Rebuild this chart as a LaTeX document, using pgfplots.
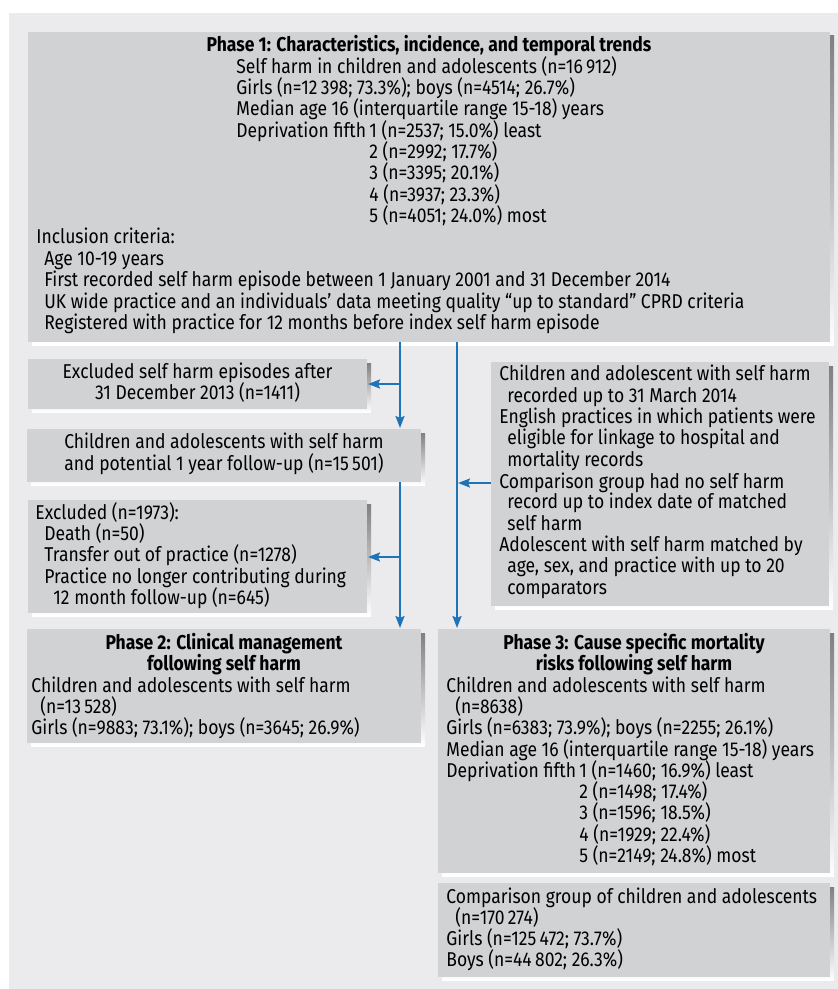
\documentclass[border=0pt]{standalone}
\usepackage{fontspec}
\setmainfont{Fira Sans}[FakeStretch=0.875, Numbers=Proportional]
\usepackage{pgfplots}
\pgfplotsset{compat=1.18}
\usetikzlibrary{arrows.meta}
\definecolor{bg}{HTML}{EBEBED}
\definecolor{boxgrey}{HTML}{D1D2D4}
\definecolor{shade}{HTML}{BDBEC0}
\definecolor{txt}{HTML}{3D3D3D}
\definecolor{arrowblue}{HTML}{1F73B7}
% one line of text, base west at pixel position
\newcommand\tl[3]{\node[anchor=base west,inner sep=0pt] at (axis cs:#1,#2) {#3};}
\newcommand\tc[3]{\node[anchor=base,inner sep=0pt] at (axis cs:#1,#2) {#3};}
% box with drop shadow: x1,y1,x2,y2
\newcommand\bx[4]{%
  \fill[shade] (axis cs:#1+4,#2+4) rectangle (axis cs:#3+4,#4+3);
  \fill[boxgrey] (axis cs:#1,#2) rectangle (axis cs:#3,#4);}
\begin{document}
\begin{tikzpicture}
\begin{axis}[
  width=419pt, height=494.5pt, scale only axis,
  xmin=0, xmax=838, ymin=0, ymax=989, y dir=reverse,
  hide axis, clip=false,
  every node/.style={font=\fontsize{9.25}{10.6}\selectfont, text=txt},
]
\fill[white] (axis cs:0,0) rectangle (axis cs:838,989);
\fill[bg] (axis cs:9,13) rectangle (axis cs:838,989);

% boxes
\bx{28}{32}{830}{342}
\bx{28}{359}{367}{409}
\bx{27}{429}{421}{482}
\bx{28}{500}{367}{613}
\bx{491}{362}{829}{606}
\bx{27}{629}{421}{743}
\bx{438}{629}{830}{873}
\bx{438}{883}{830}{977}

% arrows
\pgfplotsset{every axis plot/.append style={arrowblue, line width=1pt, mark=none}}
\addplot[-{Stealth[length=6pt,width=4.5pt,inset=1pt]}] coordinates {(400,342) (400,428)};
\addplot[-{Stealth[length=6pt,width=4.5pt,inset=1pt]}] coordinates {(400,384) (368,384)};
\addplot[-{Stealth[length=6pt,width=4.5pt,inset=1pt]}] coordinates {(400,482) (400,628)};
\addplot[-{Stealth[length=6pt,width=4.5pt,inset=1pt]}] coordinates {(400,557) (368,557)};
\addplot[-{Stealth[length=6pt,width=4.5pt,inset=1pt]}] coordinates {(457,342) (457,628)};
\addplot[-{Stealth[length=6pt,width=4.5pt,inset=1pt]}] coordinates {(491,483) (458,483)};

% Phase 1
\tc{429}{52}{\bfseries Phase 1: Characteristics, incidence, and temporal trends}
\tl{236}{74}{Self harm in children and adolescents (n=16\,912)}
\tl{236}{95}{Girls (n=12\,398; 73.3\%); boys (n=4514; 26.7\%)}
\tl{236}{116}{Median age 16 (interquartile range 15-18) years}
\tl{236}{138}{Deprivation fifth}
\tl{369}{138}{1 (n=2537; 15.0\%) least}
\tl{369}{159}{2 (n=2992; 17.7\%)}
\tl{369}{180}{3 (n=3395; 20.1\%)}
\tl{369}{202}{4 (n=3937; 23.3\%)}
\tl{369}{223}{5 (n=4051; 24.0\%) most}
\tl{36}{244}{Inclusion criteria:}
\tl{44}{266}{Age 10-19 years}
\tl{44}{287}{First recorded self harm episode between 1 January 2001 and 31 December 2014}
\tl{44}{308}{UK wide practice and an individuals’ data meeting quality “up to standard” CPRD criteria}
\tl{44}{329}{Registered with practice for 12 months before index self harm episode}

% exclusions
\tc{197.5}{378}{Excluded self harm episodes after}
\tc{197.5}{399}{31 December 2013 (n=1411)}
\tc{224}{448}{Children and adolescents with self harm}
\tc{224}{470}{and potential 1 year follow-up (n=15\,501)}
\tl{35}{519}{Excluded (n=1973):}
\tl{44}{540}{Death (n=50)}
\tl{44}{561}{Transfer out of practice (n=1278)}
\tl{44}{583}{Practice no longer contributing during}
\tl{53}{604}{12 month follow-up (n=645)}

% right criteria box
\tl{499}{380}{Children and adolescent with self harm}
\tl{507}{402}{recorded up to 31 March 2014}
\tl{499}{423}{English practices in which patients were}
\tl{507}{444}{eligible for linkage to hospital and}
\tl{507}{466}{mortality records}
\tl{499}{488}{Comparison group had no self harm}
\tl{507}{508}{record up to index date of matched}
\tl{507}{530}{self harm}
\tl{499}{551}{Adolescent with self harm matched by}
\tl{507}{572}{age, sex, and practice with up to 20}
\tl{507}{594}{comparators}

% Phase 2
\tc{224}{649}{\bfseries Phase 2: Clinical management}
\tc{224}{670}{\bfseries following self harm}
\tl{31}{692}{Children and adolescents with self harm}
\tl{40}{713}{(n=13\,528)}
\tl{31}{734}{Girls (n=9883; 73.1\%); boys (n=3645; 26.9\%)}

% Phase 3
\tc{634}{649}{\bfseries Phase 3: Cause specific mortality}
\tc{634}{670}{\bfseries risks following self harm}
\tl{446}{692}{Children and adolescents with self harm}
\tl{455}{713}{(n=8638)}
\tl{446}{734}{Girls (n=6383; 73.9\%); boys (n=2255; 26.1\%)}
\tl{446}{756}{Median age 16 (interquartile range 15-18) years}
\tl{446}{777}{Deprivation fifth}
\tl{579}{777}{1 (n=1460; 16.9\%) least}
\tl{579}{798}{2 (n=1498; 17.4\%)}
\tl{579}{819}{3 (n=1596; 18.5\%)}
\tl{579}{841}{4 (n=1929; 22.4\%)}
\tl{579}{862}{5 (n=2149; 24.8\%) most}

% comparison group
\tl{446}{903}{Comparison group of children and adolescents}
\tl{455}{924}{(n=170\,274)}
\tl{446}{945}{Girls (n=125\,472; 73.7\%)}
\tl{446}{966}{Boys (n=44\,802; 26.3\%)}
\end{axis}
\end{tikzpicture}
\end{document}
